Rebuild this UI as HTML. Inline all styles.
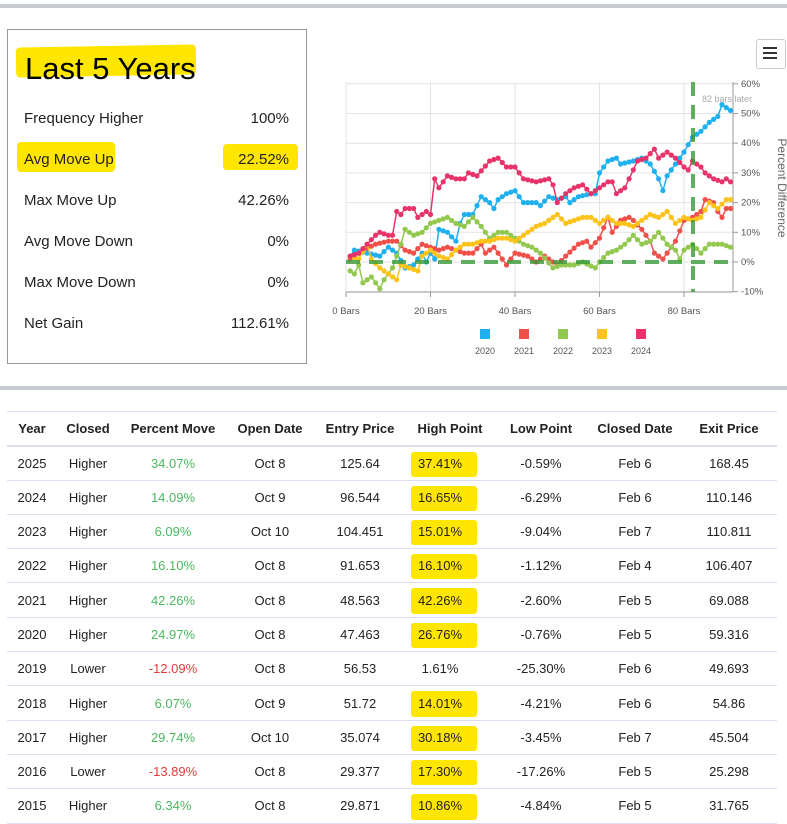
<!DOCTYPE html>
<html><head><meta charset="utf-8">
<style>
body{margin:0;width:787px;height:824px;background:#fff;font-family:"Liberation Sans",Arial,sans-serif;position:relative;overflow:hidden;color:#222}
.a{position:absolute}
.bar{position:absolute;left:0;width:787px;height:4px;background:#c9cdd3}
.box{left:7px;top:29px;width:298px;height:333px;border:1px solid #999}
.stat{position:absolute;left:24px;width:265px;font-size:15px;color:#222}
.stat span{position:absolute;right:0}
.hl{position:absolute;background:#ffe600;border-radius:4px}
table{position:absolute;left:7px;top:411px;width:770px;border-collapse:collapse;font-size:13px;table-layout:fixed}
tr{height:34.3px}
th{font-weight:bold;padding:0;border-top:1px solid #dde;border-bottom:2px solid #dde;color:#222;font-size:13px}
td{padding:0;text-align:center;border-bottom:1px solid #dde;position:relative}
.g{color:#4cb860}.r{color:#e23b3b}
td.h span{position:relative;z-index:1;margin-left:-20px}
td.h:before{content:"";position:absolute;left:4px;width:66px;top:5px;bottom:3px;background:#ffe600;border-radius:3px}
</style></head><body>
<div class="bar" style="top:4px"></div>
<div class="bar" style="top:386px"></div>
<div class="a box"></div>
<div class="hl" style="left:16px;top:46px;width:180px;height:30px;transform:rotate(-1deg)"></div>
<div class="a" style="left:25px;top:51px;font-size:31px;color:#000">Last 5 Years</div>
<div class="hl" style="left:17px;top:142px;width:98px;height:30px"></div>
<div class="hl" style="left:223px;top:144px;width:75px;height:26px"></div>
<div class="stat" style="top:110px">Frequency Higher<span>100%</span></div>
<div class="stat" style="top:151px">Avg Move Up<span>22.52%</span></div>
<div class="stat" style="top:192px">Max Move Up<span>42.26%</span></div>
<div class="stat" style="top:233px">Avg Move Down<span>0%</span></div>
<div class="stat" style="top:274px">Max Move Down<span>0%</span></div>
<div class="stat" style="top:315px">Net Gain<span>112.61%</span></div>
<div class="a" style="left:756px;top:39px;width:28px;height:28px;border:1px solid #ccc;border-radius:3px;background:#fff"></div>
<div class="a" style="left:763px;top:47px;width:14px;height:2px;background:#333;box-shadow:0 5px 0 #333,0 10px 0 #333"></div>
<svg class="a" style="left:0;top:0" width="787" height="380" id="ch"></svg>
<table>
<colgroup><col style="width:50px"><col style="width:62px"><col style="width:108px"><col style="width:86px"><col style="width:94px"><col style="width:86px"><col style="width:96px"><col style="width:92px"><col style="width:96px"></colgroup>
<tr><th>Year</th><th>Closed</th><th>Percent Move</th><th>Open Date</th><th>Entry Price</th><th>High Point</th><th>Low Point</th><th>Closed Date</th><th>Exit Price</th></tr>
<tr><td>2025</td><td>Higher</td><td class="g">34.07%</td><td>Oct 8</td><td>125.64</td><td class="h"><span>37.41%</span></td><td>-0.59%</td><td>Feb 6</td><td>168.45</td></tr>
<tr><td>2024</td><td>Higher</td><td class="g">14.09%</td><td>Oct 9</td><td>96.544</td><td class="h"><span>16.65%</span></td><td>-6.29%</td><td>Feb 6</td><td>110.146</td></tr>
<tr><td>2023</td><td>Higher</td><td class="g">6.09%</td><td>Oct 10</td><td>104.451</td><td class="h"><span>15.01%</span></td><td>-9.04%</td><td>Feb 7</td><td>110.811</td></tr>
<tr><td>2022</td><td>Higher</td><td class="g">16.10%</td><td>Oct 8</td><td>91.653</td><td class="h"><span>16.10%</span></td><td>-1.12%</td><td>Feb 4</td><td>106.407</td></tr>
<tr><td>2021</td><td>Higher</td><td class="g">42.26%</td><td>Oct 8</td><td>48.563</td><td class="h"><span>42.26%</span></td><td>-2.60%</td><td>Feb 5</td><td>69.088</td></tr>
<tr><td>2020</td><td>Higher</td><td class="g">24.97%</td><td>Oct 8</td><td>47.463</td><td class="h"><span>26.76%</span></td><td>-0.76%</td><td>Feb 5</td><td>59.316</td></tr>
<tr><td>2019</td><td>Lower</td><td class="r">-12.09%</td><td>Oct 8</td><td>56.53</td><td><span style="margin-left:-20px">1.61%</span></td><td>-25.30%</td><td>Feb 6</td><td>49.693</td></tr>
<tr><td>2018</td><td>Higher</td><td class="g">6.07%</td><td>Oct 9</td><td>51.72</td><td class="h"><span>14.01%</span></td><td>-4.21%</td><td>Feb 6</td><td>54.86</td></tr>
<tr><td>2017</td><td>Higher</td><td class="g">29.74%</td><td>Oct 10</td><td>35.074</td><td class="h"><span>30.18%</span></td><td>-3.45%</td><td>Feb 7</td><td>45.504</td></tr>
<tr><td>2016</td><td>Lower</td><td class="r">-13.89%</td><td>Oct 8</td><td>29.377</td><td class="h"><span>17.30%</span></td><td>-17.26%</td><td>Feb 5</td><td>25.298</td></tr>
<tr><td>2015</td><td>Higher</td><td class="g">6.34%</td><td>Oct 8</td><td>29.871</td><td class="h"><span>10.86%</span></td><td>-4.84%</td><td>Feb 5</td><td>31.765</td></tr>
</table>
<script>
var X=function(b){return 346+b*4.225},Y=function(v){return 262-v*2.97};
var s='';
for(var i=0;i<=4;i++){var x=X(i*20);s+='<line x1="'+x+'" y1="82" x2="'+x+'" y2="292" stroke="#e3e3e3"/>';s+='<line x1="'+x+'" y1="292" x2="'+x+'" y2="297" stroke="#999"/>';s+='<text x="'+x+'" y="314" font-size="9.5" fill="#555" text-anchor="middle">'+(i*20)+' Bars</text>';}
for(var v=-10;v<=60;v+=10){var y=Y(v);s+='<line x1="346" y1="'+y+'" x2="733" y2="'+y+'" stroke="#e3e3e3"/>';s+='<line x1="733" y1="'+y+'" x2="738" y2="'+y+'" stroke="#999"/>';s+='<text x="741" y="'+(y+3)+'" font-size="9.5" fill="#555">'+v+'%</text>';}
s+='<line x1="733" y1="82" x2="733" y2="292" stroke="#999"/><line x1="346" y1="292" x2="733" y2="292" stroke="#999"/>';
s+='<text x="778" y="188" font-size="12" fill="#666" text-anchor="middle" transform="rotate(90 778 188)">Percent Difference</text>';
var D={
'#1fb0f0':[[1,2],[2,4],[5,3],[8,2],[10,5],[12,3],[14,-2],[16,-1],[18,3],[19,0],[20,3],[21,1],[22,11],[24,10],[26,7],[27,13],[28,16],[30,16],[32,22],[34,20],[35,18],[36,21],[38,23],[40,24],[42,20],[45,20],[46,19],[48,22],[50,21],[52,22],[53,20],[55,22],[58,23],[59,23],[60,30],[62,34],[64,35],[65,33],[68,34],[70,35],[72,33],[74,28],[75,24],[76,29],[78,33],[80,37],[82,42],[84,44],[86,47],[88,49],[89,53],[91,51]],
'#f0504a':[[1,1],[4,4],[7,6],[10,7],[12,7],[14,4],[16,3],[18,6],[20,5],[22,4],[24,5],[26,4],[28,3],[30,3],[32,6],[33,3],[35,5],[36,3],[38,-1],[40,3],[43,2],[45,0],[47,2],[50,-1],[52,2],[55,6],[57,7],[58,5],[60,8],[62,15],[63,10],[65,14],[67,15],[68,14],[70,11],[72,7],[73,3],[75,1],[76,3],[78,7],[80,14],[82,15],[84,17],[85,21],[87,20],[88,17],[89,15],[90,18],[91,18]],
'#92c84e':[[1,-3],[2,-4],[3,-1],[4,-7],[6,-5],[8,-9],[9,-6],[11,-2],[13,6],[14,11],[16,9],[18,10],[20,13],[22,14],[24,15],[26,13],[28,12],[30,15],[32,12],[34,8],[36,10],[38,10],[40,8],[42,6],[44,5],[46,3],[49,-2],[51,-1],[54,-1],[56,0],[59,-2],[60,0],[62,3],[64,4],[66,6],[68,9],[70,6],[72,7],[74,10],[76,6],[78,4],[79,1],[80,4],[82,6],[84,3],[86,6],[88,6],[89,6],[91,5]],
'#fdc31a':[[1,2],[3,1],[5,6],[6,1],[8,-2],[10,-4],[12,-6],[13,-1],[15,-2],[17,-3],[18,2],[20,4],[22,2],[24,1],[26,4],[28,6],[30,6],[32,7],[34,7],[36,8],[38,8],[40,7],[43,10],[45,12],[47,13],[50,16],[52,13],[54,14],[56,15],[58,15],[60,13],[62,15],[64,13],[66,13],[68,12],[70,14],[72,16],[74,15],[76,17],[78,13],[80,15],[82,14],[84,15],[86,20],[88,18],[90,21],[91,21]],
'#e8336a':[[1,2],[3,3],[5,6],[7,9],[8,10],[10,9],[11,9],[12,17],[13,16],[14,18],[16,18],[17,15],[19,17],[20,16],[21,28],[22,25],[23,27],[24,29],[26,28],[28,28],[29,30],[31,29],[34,34],[36,35],[38,32],[40,32],[42,28],[45,27],[48,28],[49,26],[50,20],[52,23],[54,25],[56,26],[58,23],[60,25],[62,27],[63,27],[64,23],[66,25],[67,28],[69,34],[71,35],[73,38],[74,35],[76,37],[78,35],[80,32],[81,31],[82,34],[84,32],[85,30],[87,28],[89,27],[90,28],[91,27]]};
function at(p,b){for(var i=0;i<p.length-1;i++){if(b>=p[i][0]&&b<=p[i+1][0]){var t=(b-p[i][0])/(p[i+1][0]-p[i][0]);return p[i][1]+t*(p[i+1][1]-p[i][1]);}}return p[p.length-1][1];}
for(var c in D){var p=D[c],pts=[],dots='';for(var b=1;b<=91;b++){var v=at(p,b),x=X(b),y=Y(v);pts.push(x.toFixed(1)+','+y.toFixed(1));dots+='<circle cx="'+x.toFixed(1)+'" cy="'+y.toFixed(1)+'" r="2.6" fill="'+c+'"/>';}
s+='<polyline points="'+pts.join(' ')+'" fill="none" stroke="'+c+'" stroke-width="1.5"/>'+dots;}
s+='<line x1="346" y1="262" x2="733" y2="262" stroke="#3a9a3a" stroke-opacity="0.8" stroke-width="4" stroke-dasharray="14,9"/>';
s+='<line x1="693" y1="82" x2="693" y2="292" stroke="#3a9a3a" stroke-opacity="0.8" stroke-width="4" stroke-dasharray="14,9"/>';
s+='<text x="702" y="102" font-size="9" fill="#aaa">82 bars later</text>';
var L=[['#1fb0f0','2020'],['#f0504a','2021'],['#92c84e','2022'],['#fdc31a','2023'],['#e8336a','2024']];
for(var i=0;i<5;i++){var x=485+i*39;s+='<rect x="'+(x-5)+'" y="329" width="10" height="10" fill="'+L[i][0]+'"/><text x="'+x+'" y="354" font-size="9" fill="#555" text-anchor="middle">'+L[i][1]+'</text>';}
document.getElementById('ch').innerHTML=s;
</script>
</body></html>
